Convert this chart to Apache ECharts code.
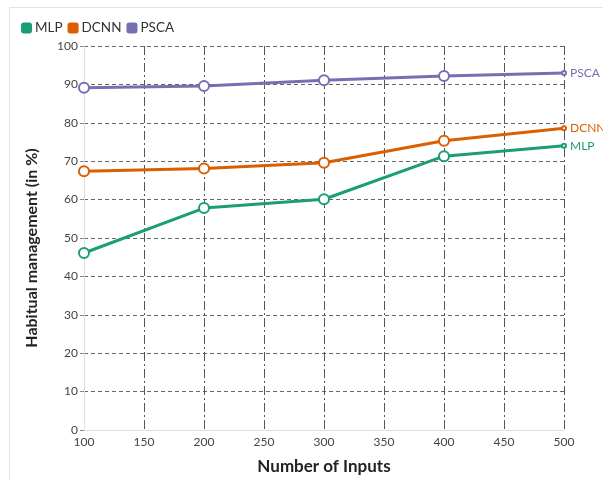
<!DOCTYPE html>
<html><head><meta charset="utf-8">
<script src="https://cdn.jsdelivr.net/npm/echarts@6/dist/echarts.min.js"></script>
<style>
html,body{margin:0;padding:0;background:#fff;overflow:hidden;}
#frame{position:absolute;left:9px;top:7px;width:700px;height:600px;border:1px solid #e3e3e3;}
#c{position:absolute;left:0;top:0;width:603px;height:480px;}
</style></head>
<body><div id="frame"></div><div id="c"></div>
<script>
const inputs = [100, 200, 300, 400, 500];
const mlp  = [46.1, 57.8, 60.1, 71.3, 74.0];
const dcnn = [67.4, 68.1, 69.6, 75.3, 78.6];
const psca = [89.1, 89.6, 91.1, 92.2, 93.0];
const seriesNames = ['MLP', 'DCNN', 'PSCA'];
const colors = ['#1b9e77', '#d95f02', '#7570b3'];

const chart = echarts.init(document.getElementById('c'));
function mk(name, vals, color) {
  return {
    name: name, type: 'line', color: color,
    data: vals.map((v, i) => ({ value: [inputs[i], v], symbolSize: i === vals.length - 1 ? 4 : 10 })),
    symbol: 'emptyCircle',
    lineStyle: { width: 3, color: color },
    itemStyle: { color: color, borderWidth: 2.5 },
    endLabel: { show: true, formatter: '{a}', color: color, fontFamily: 'Lato', fontSize: 12, distance: 6 },
    z: 3
  };
}
chart.setOption({
  animation: false,
  textStyle: { fontFamily: 'Lato' },
  legend: {
    left: 16, top: 16, itemWidth: 11, itemHeight: 11, itemGap: 5,
    icon: 'roundRect',
    textStyle: { fontFamily: 'Lato', fontSize: 13.5, color: '#333', padding: [0, 0, 0, -2] },
    data: seriesNames
  },
  grid: { left: 84, right: 39, top: 46, bottom: 48 },
  xAxis: {
    type: 'value', min: 100, max: 500, interval: 50,
    name: 'Number of Inputs', nameLocation: 'middle', nameGap: 28,
    nameTextStyle: { fontFamily: 'Lato', fontSize: 17, fontWeight: 'bold', color: '#222' },
    axisLine: { show: true, lineStyle: { color: '#e0e0e0', width: 1 } },
    axisTick: { show: false },
    axisLabel: { color: '#444', fontSize: 12, margin: 6 },
    splitLine: { show: true, showMinLine: false, lineStyle: { color: '#555', type: [9, 3, 2, 3], width: 1 } }
  },
  yAxis: {
    type: 'value', min: 0, max: 100, interval: 10,
    name: 'Habitual management (in %)', nameLocation: 'middle', nameGap: 44,
    nameTextStyle: { fontFamily: 'Lato', fontSize: 16, fontWeight: 'bold', color: '#222', padding: [0, 20, 0, 0] },
    axisLine: { show: true, lineStyle: { color: '#e0e0e0', width: 1 } },
    axisTick: { show: true, length: 4, lineStyle: { color: '#888' } },
    axisLabel: { color: '#444', fontSize: 12, margin: 6 },
    splitLine: { show: true, showMinLine: false, lineStyle: { color: '#666', type: [4, 3], width: 1 } }
  },
  series: [mk('MLP', mlp, colors[0]), mk('DCNN', dcnn, colors[1]), mk('PSCA', psca, colors[2])]
});
</script></body></html>
